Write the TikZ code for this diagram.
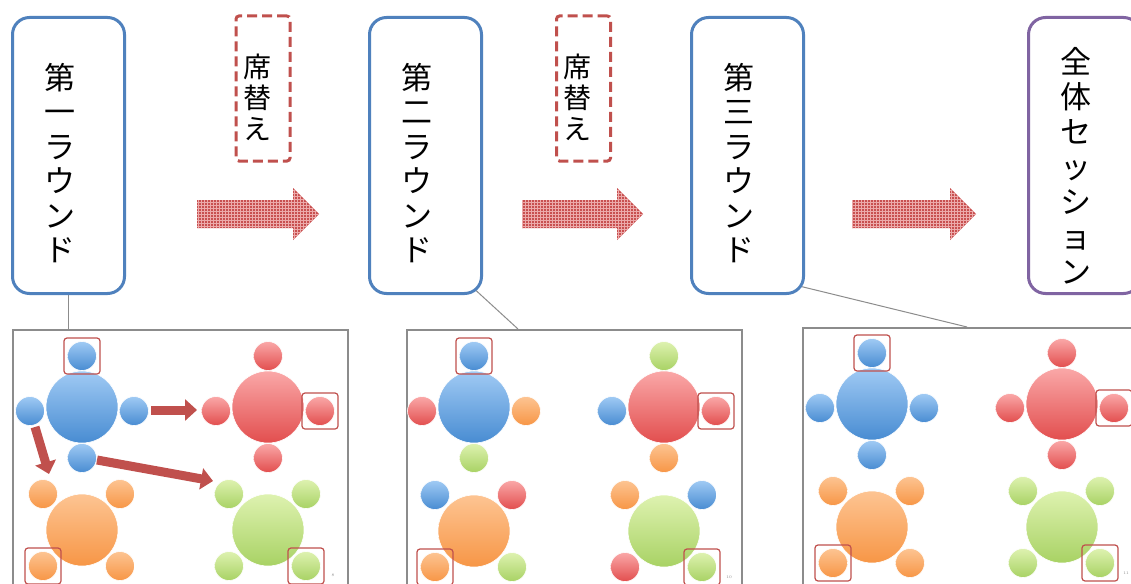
\documentclass[tikz,border=0pt]{standalone}
\usepackage{fontspec}
\newfontfamily\jp{Noto Sans CJK JP}
\usetikzlibrary{arrows.meta,patterns}
\definecolor{boxblue}{HTML}{4F81BD}
\definecolor{boxpurple}{HTML}{8064A2}
\definecolor{dashred}{HTML}{C0504D}
\definecolor{arrowfill}{RGB}{200,80,80}
\definecolor{arrowgrid}{RGB}{236,170,170}
\definecolor{panelgray}{RGB}{140,140,140}
\definecolor{blueT}{RGB}{160,202,244}
\definecolor{blueB}{RGB}{72,140,210}
\definecolor{redT}{RGB}{250,168,168}
\definecolor{redB}{RGB}{226,78,78}
\definecolor{orangeT}{RGB}{253,196,146}
\definecolor{orangeB}{RGB}{247,150,70}
\definecolor{greenT}{RGB}{222,242,176}
\definecolor{greenB}{RGB}{168,210,100}
\tikzset{
  roundbox/.style={draw=boxblue, line width=3pt, rounded corners=17pt, fill=white,
    minimum width=112pt, minimum height=276pt, inner sep=0pt},
  swapbox/.style={draw=dashred, line width=3pt, dash pattern=on 10pt off 5pt,
    rounded corners=3pt, minimum width=54pt, minimum height=145pt, inner sep=0pt},
  vtext/.style={font=\jp\fontsize{31}{34.5}\selectfont, align=center, inner sep=0pt},
  stext/.style={font=\jp\fontsize{28}{31}\selectfont, align=center, inner sep=0pt},
  bigarrow/.style={fill=arrowfill, postaction={pattern=grid, pattern color=arrowgrid}},
  callout/.style={draw=panelgray, line width=1pt},
  panel/.style={draw=panelgray, line width=1.5pt, anchor=north west, inner sep=0pt, minimum height=290pt},
  tbl/.style={circle, inner sep=0pt, minimum size=72pt, draw=white, line width=0.6pt},
  seat/.style={circle, inner sep=0pt, minimum size=29pt, draw=white, line width=0.6pt},
  cb/.style={top color=blueT, bottom color=blueB},
  cr/.style={top color=redT, bottom color=redB},
  co/.style={top color=orangeT, bottom color=orangeB},
  cg/.style={top color=greenT, bottom color=greenB},
  hl/.style={draw=dashred, line width=1.2pt, rounded corners=3pt, minimum size=36pt, inner sep=0pt},
  tblarrow/.style={draw=dashred, line width=9pt, -{Triangle[width=21pt,length=12pt]}},
  pgnum/.style={font=\fontsize{4}{5}\selectfont, text=panelgray, inner sep=0pt}
}
% cross table: name, x, y, big, top, left, right, bottom
\newcommand\crosstbl[8]{%
  \node[tbl,#4] (#1) at (#2,#3) {};
  \node[seat,#5] (#1t) at ({#2},{#3-51}) {};
  \node[seat,#6] (#1l) at ({#2-52},{#3+4}) {};
  \node[seat,#7] (#1r) at ({#2+52},{#3+4}) {};
  \node[seat,#8] (#1b) at ({#2},{#3+51}) {};
}
% diagonal table: name, x, y, big, tl, tr, bl, br
\newcommand\diagtbl[8]{%
  \node[tbl,#4] (#1) at (#2,#3) {};
  \node[seat,#5] (#1tl) at ({#2-39},{#3-36}) {};
  \node[seat,#6] (#1tr) at ({#2+38},{#3-36}) {};
  \node[seat,#7] (#1bl) at ({#2-39},{#3+36}) {};
  \node[seat,#8] (#1br) at ({#2+38},{#3+36}) {};
}
\newcommand\blockarrow[2]{%
  \path[bigarrow] (#1,200) -- (#2,200) -- (#2,188) -- ({#2+26},214) -- (#2,240) -- (#2,228) -- (#1,228) -- cycle;
}
\begin{document}
\begin{tikzpicture}[x=1pt,y=-1pt]
\clip (0,0) rectangle (1131,583);
\fill[white] (0,0) rectangle (1131,583);

% panels
\node[panel, minimum width=335pt] (p1) at (12,329) {};
\node[panel, minimum width=335pt] (p2) at (406,329) {};
\node[panel, minimum width=340pt] (p3) at (802,327) {};
\coordinate (c1) at (68,329);
\coordinate (c2) at (518,329);
\coordinate (c3) at (967,327);

% callout lines (behind boxes)
\draw[callout] (68,290) -- (c1);
\draw[callout] (470,285) -- (c2);
\draw[callout] (795,285) -- (c3);

% top boxes
\node[roundbox] (r1) at (68.5,155.5) {};
\node[roundbox] (r2) at (425.5,155.5) {};
\node[roundbox] (r3) at (747.5,155.5) {};
\node[roundbox, draw=boxpurple] (r4) at (1084.5,155.5) {};

\node[vtext] (t1) at (60,163) {第\\一\\ラ\\ウ\\ン\\ド};
\node[vtext] (t2) at (417,163) {第\\二\\ラ\\ウ\\ン\\ド};
\node[vtext] (t3) at (739,163) {第\\三\\ラ\\ウ\\ン\\ド};
\node[vtext, font=\jp\fontsize{31}{35}\selectfont] (t4) at (1076,166) {全\\体\\セ\\ッ\\シ\\ョ\\ン};

% seat change boxes
\node[swapbox] (d1) at (263,88.5) {};
\node[swapbox] (d2) at (583.5,88.5) {};
\node[stext] (s1) at (257,97) {席\\替\\え};
\node[stext] (s2) at (577,97) {席\\替\\え};

% block arrows
\blockarrow{197}{293}
\blockarrow{522}{617}
\blockarrow{852}{950}

% panel 1
\crosstbl{a1}{82}{407}{cb}{cb}{cb}{cb}{cb}
\crosstbl{a2}{268}{407}{cr}{cr}{cr}{cr}{cr}
\diagtbl{a3}{82}{530}{co}{co}{co}{co}{co}
\diagtbl{a4}{268}{530}{cg}{cg}{cg}{cg}{cg}
\node[hl] at (a1t) {};
\node[hl] at (a2r) {};
\node[hl] at (a3bl) {};
\node[hl] at (a4br) {};
\coordinate (m1s) at (151,410);
\coordinate (m1e) at (197,410);
\coordinate (m2s) at (35,427);
\coordinate (m2e) at (49,474);
\coordinate (m3s) at (97,460);
\coordinate (m3e) at (213,481);
\draw[tblarrow] (m1s) -- (m1e);
\draw[tblarrow] (m2s) -- (m2e);
\draw[tblarrow] (m3s) -- (m3e);
\node[pgnum] (n1) at (333,575) {8};

% panel 2
\crosstbl{b1}{474}{407}{cb}{cb}{cr}{co}{cg}
\crosstbl{b2}{664}{407}{cr}{cg}{cb}{cr}{co}
\diagtbl{b3}{474}{531}{co}{cb}{cr}{co}{cg}
\diagtbl{b4}{664}{531}{cg}{co}{cb}{cr}{cg}
\node[hl] at (b1t) {};
\node[hl] at (b2r) {};
\node[hl] at (b3bl) {};
\node[hl] at (b4br) {};
\node[pgnum] (n2) at (729,577) {10};

% panel 3
\crosstbl{e1}{872}{404}{cb}{cb}{cb}{cb}{cb}
\crosstbl{e2}{1062}{404}{cr}{cr}{cr}{cr}{cr}
\diagtbl{e3}{872}{527}{co}{co}{co}{co}{co}
\diagtbl{e4}{1062}{527}{cg}{cg}{cg}{cg}{cg}
\node[hl] at (e1t) {};
\node[hl] at (e2r) {};
\node[hl] at (e3bl) {};
\node[hl] at (e4br) {};
\node[pgnum] (n3) at (1126,573) {11};
\end{tikzpicture}
\end{document}
